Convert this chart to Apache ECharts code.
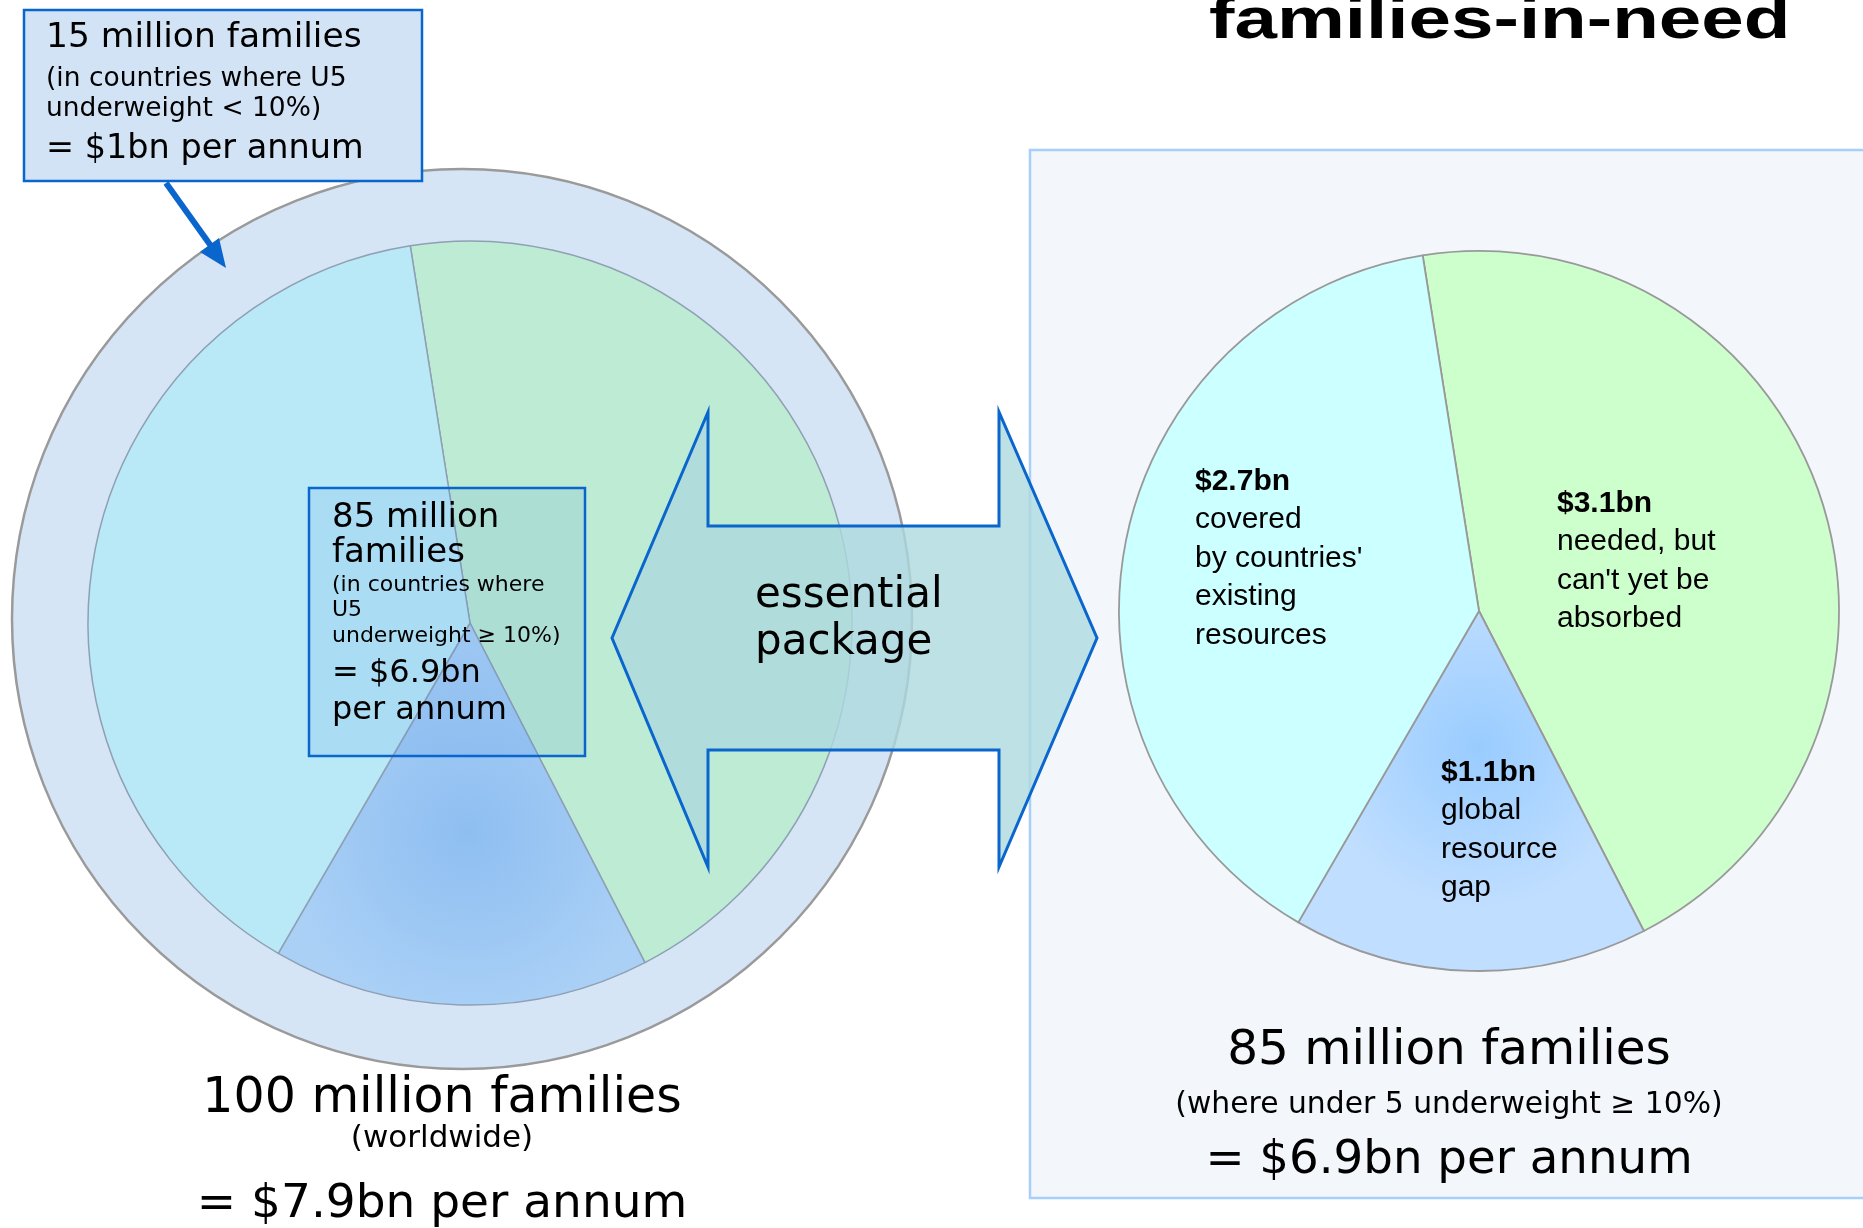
<!DOCTYPE html>
<html>
<head>
<meta charset="utf-8">
<title>families-in-need</title>
<script src="https://cdn.jsdelivr.net/npm/echarts@6.0.0/dist/echarts.min.js"></script>
<style>
  html, body { margin: 0; padding: 0; background: #fff; }
  #main { width: 1863px; height: 1228px; }
</style>
</head>
<body>
<div id="main"></div>
<script>
// data --------------------------------------------
const worldFamilies = 100;   // million families, outer ring
const needFamilies = 85;     // million families, inner pie
const sliceNames = ["needed, but\ncan't yet be\nabsorbed", 'global\nresource\ngap', "covered\nby countries'\nexisting\nresources"];
const sliceValues = [3.1, 1.1, 2.7];   // $bn per annum
const sliceColors = ['#CCFFCC', 'blue', '#CCFFFF'];
const leftColors = ['#BDEBD3', 'blue', '#B9E9F7'];

const topBoxLines = ['15 million families', '(in countries where U5', 'underweight < 10%)', '= $1bn per annum'];
const midBoxLines = ['85 million', 'families', '(in countries where', 'U5', 'underweight \u2265 10%)', '= $6.9bn', 'per annum'];
const leftFoot = ['100 million families', '(worldwide)', '= $7.9bn per annum'];
const rightFoot = ['85 million families', '(where under 5 underweight \u2265 10%)', '= $6.9bn per annum'];
const arrowText = ['essential', 'package'];
const title = 'families-in-need';

// label anchors (top-left) for the right pie
const labelPos = [[1557, 484], [1441, 753], [1195, 462]];

let chart = echarts.init(document.getElementById('main'));

// one line of text, y given as baseline
let txt = function (x, base, str, size, o) {
  o = o || {};
  return {
    type: 'text', x: x, y: base - 0.3 * size, z: o.z || 20, silent: true,
    scaleX: o.sx || 1,
    style: {
      text: str, fill: '#000',
      fontSize: size, fontFamily: o.family || 'DejaVu Sans', fontWeight: o.weight || 'normal',
      align: o.align || 'left', textAlign: o.align || 'left',
      verticalAlign: 'middle', textVerticalAlign: 'middle'
    }
  };
};

let radial = function (x, y, r, c0, c1) {
  return { type: 'radial', x: x, y: y, r: r, global: true,
    colorStops: [{ offset: 0, color: c0 }, { offset: 1, color: c1 }] };
};

let els = [];

// right panel
els.push({ type: 'rect', z: 0, silent: true,
  shape: { x: 1030, y: 150, width: 900, height: 1048 },
  style: { fill: '#F3F7FC', stroke: '#A6CFFA', lineWidth: 2.5 } });

// top-left box + pointer
els.push({ type: 'rect', z: 5, silent: true,
  shape: { x: 24, y: 10, width: 398, height: 171 },
  style: { fill: '#D3E3F6', stroke: '#0A66CC', lineWidth: 2.5 } });
els.push({ type: 'line', z: 5, silent: true,
  shape: { x1: 166, y1: 183, x2: 211, y2: 246 },
  style: { stroke: '#0A66CC', lineWidth: 6 } });
els.push({ type: 'polygon', z: 5, silent: true,
  shape: { points: [[226, 268], [200, 252], [219, 238]] },
  style: { fill: '#0A66CC' } });
[[48, 34.5], [87, 26.5], [117, 26.5], [159, 33.5]].forEach((p, i) => {
  els.push(txt(46, p[0], topBoxLines[i], p[1]));
});

// box inside left pie
els.push({ type: 'rect', z: 5, silent: true,
  shape: { x: 309, y: 488, width: 276, height: 268 },
  style: { fill: 'rgba(70,140,225,0.13)', stroke: '#0A66CC', lineWidth: 2.5 } });
[[528, 34], [563, 34], [592, 22], [617, 22], [643, 22], [683, 32], [720, 32]].forEach((p, i) => {
  els.push(txt(332, p[0], midBoxLines[i], p[1]));
});

// double arrow
els.push({ type: 'polygon', z: 6, silent: true,
  shape: { points: [[612, 638], [708, 412], [708, 526], [999, 526], [999, 412], [1097, 638],
                    [999, 867], [999, 750], [708, 750], [708, 867]] },
  style: { fill: 'rgba(172,218,222,0.8)', stroke: '#0A66CC', lineWidth: 3 } });
els.push(txt(755, 609, arrowText[0], 42));
els.push(txt(755, 656, arrowText[1], 42));

// footers
[[1114, 49], [1148, 31], [1219, 47]].forEach((p, i) => {
  els.push(txt(442, p[0], leftFoot[i], p[1], { align: 'center' }));
});
[[1066, 48.5], [1114, 29.8], [1175, 46.7]].forEach((p, i) => {
  els.push(txt(1449, p[0], rightFoot[i], p[1], { align: 'center' }));
});

// title (cut off at the top)
els.push(txt(1209, 39, title, 57, { family: 'Liberation Sans', weight: 'bold', sx: 1.34 }));

let pieData = function (cols, blue) {
  return sliceValues.map((v, i) => ({
    value: v, name: sliceNames[i],
    itemStyle: { color: cols[i] === 'blue' ? blue : cols[i] }
  }));
};

let option = {
  animation: false,
  graphic: { elements: els },
  series: [
    {
      // 100 million families worldwide
      type: 'pie', z: 1, silent: true,
      center: [462, 619], radius: 450,
      label: { show: false }, labelLine: { show: false },
      emphasis: { disabled: true },
      itemStyle: { color: '#D6E5F6', borderColor: '#9A9A9A', borderWidth: 2.5 },
      data: [{ value: worldFamilies, name: 'worldwide' }]
    },
    {
      // 85 million families, same split as the right pie
      type: 'pie', z: 2, silent: true,
      center: [470, 623], radius: 382, startAngle: 99,
      label: { show: false }, labelLine: { show: false },
      emphasis: { disabled: true },
      itemStyle: { borderColor: '#8FA0B4', borderWidth: 1.5 },
      data: pieData(leftColors, radial(469, 832, 190, '#8EBEF1', '#AAD0F6'))
    },
    {
      type: 'pie', z: 2, silent: true,
      center: [1479, 611], radius: 360, startAngle: 99,
      emphasis: { disabled: true },
      itemStyle: { borderColor: '#999999', borderWidth: 1.8 },
      labelLine: { show: false },
      label: {
        show: true, position: 'inside', color: '#000',
        formatter: p => ['{v|$' + p.value.toFixed(1) + 'bn}']
          .concat(p.name.split('\n').map(s => '{t|' + s + '}')).join('\n'),
        rich: {
          v: { fontFamily: 'Liberation Sans', fontWeight: 'bold', fontSize: 30, lineHeight: 38.5, color: '#000' },
          t: { fontFamily: 'Liberation Sans', fontSize: 30, lineHeight: 38.5, color: '#000' }
        }
      },
      labelLayout: function (params) {
        let p = labelPos[params.dataIndex];
        return { x: p[0], y: p[1], align: 'left', verticalAlign: 'top' };
      },
      data: pieData(sliceColors, radial(1479, 748, 160, '#99CCFF', '#C0DEFF'))
    }
  ]
};
chart.setOption(option);
</script>
</body>
</html>
